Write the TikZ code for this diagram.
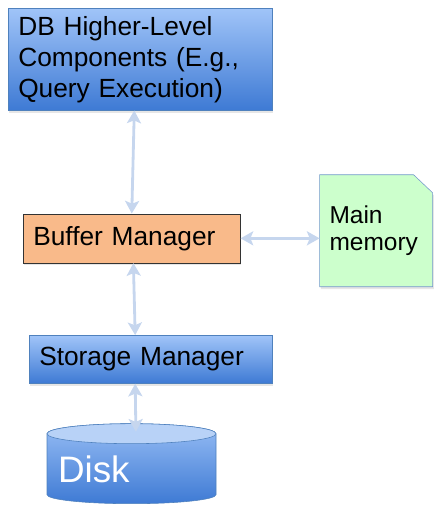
\documentclass[tikz,border=0pt]{standalone}
\usepackage{fontspec}
\setmainfont{Liberation Sans}
\usetikzlibrary{positioning, arrows.meta, shadows, backgrounds}
\definecolor{boxtop}{RGB}{160,196,248}
\definecolor{boxbot}{RGB}{62,122,212}
\definecolor{boxedge}{RGB}{79,129,189}
\definecolor{buffill}{RGB}{249,186,138}
\definecolor{memfill}{RGB}{204,255,204}
\definecolor{memedge}{RGB}{116,152,204}
\definecolor{linkblue}{RGB}{198,214,238}
\definecolor{disklid}{RGB}{184,210,247}

\begin{document}
\begin{tikzpicture}[
    layerbox/.style={
        draw=boxedge,
        top color=boxtop,
        bottom color=boxbot,
        align=left,
        inner xsep=0.25cm,
        font=\fontsize{18.7}{22}\selectfont,
        drop shadow={opacity=0.2, shadow xshift=0.03cm, shadow yshift=-0.06cm}
    },
    bufbox/.style={
        draw=black!80,
        fill=buffill,
        align=left,
        inner xsep=0.25cm,
        font=\fontsize{18.7}{22}\selectfont,
        drop shadow={opacity=0.2, shadow xshift=0.03cm, shadow yshift=-0.06cm}
    },
    membox/.style={
        align=left,
        inner xsep=0.25cm,
        outer sep=0pt,
        font=\fontsize{17.4}{19.5}\selectfont
    },
    diskbox/.style={
        align=left,
        inner xsep=0.275cm,
        outer sep=0pt,
        text=white,
        font=\fontsize{26.2}{30}\selectfont
    },
    dual/.style={
        {Stealth[length=9pt, width=10pt, inset=2pt]}-{Stealth[length=9pt, width=10pt, inset=2pt]},
        line width=2pt,
        linkblue
    }
]
\useasboundingbox (-0.2,0.2) rectangle (10.775,-12.6);

% === DB higher-level components ===
\node[layerbox, anchor=north west, text width=6.1cm, minimum height=2.55cm] (hl) at (0,0) {DB Higher-Level\\Components (E.g.,\\Query Execution)};

% === Buffer manager ===
\node[bufbox, below=2.575cm of hl.south west, anchor=north west, xshift=0.375cm, text width=4.925cm, minimum height=1.225cm] (buf) {Buffer Manager};

% === Main memory (page with folded corner) ===
\node[membox, right=1.975cm of buf, yshift=0.19cm, text width=2.325cm, text height=0.45cm, minimum height=2.8cm] (mem) {Main\\memory};
\begin{scope}[on background layer]
\filldraw[memedge, fill=memfill, drop shadow={opacity=0.2, shadow xshift=0.03cm, shadow yshift=-0.06cm}] (mem.south west) -- (mem.north west) -- ([xshift=-0.475cm]mem.north east) -- ([yshift=-0.45cm]mem.north east) -- (mem.south east) -- cycle;
\end{scope}

% === Storage manager ===
\node[layerbox, below=1.8cm of buf.south west, anchor=north west, xshift=0.15cm, text width=5.575cm, minimum height=1.2cm] (sto) {Storage Manager};

% === Disk ===
\node[diskbox, below=1.25cm of sto.south west, anchor=north west, xshift=0.45cm, text width=3.675cm, text height=0.925cm, minimum height=1.525cm] (disk) {Disk};
\begin{scope}[on background layer]
\shade[top color=boxtop!90!boxbot, bottom color=boxbot, draw=boxedge] (disk.north west) -- (disk.south west) arc[start angle=180, end angle=360, x radius=2.1125cm, y radius=0.225cm] -- (disk.north east) arc[start angle=0, end angle=180, x radius=2.1125cm, y radius=0.25cm] -- cycle;
\draw[boxedge, fill=disklid] (disk.north) ellipse[x radius=2.1125cm, y radius=0.25cm];
\end{scope}

% === Arrows ===
\draw[dual] ([xshift=-0.15cm]hl.south) -- (buf.north);
\draw[dual] ([xshift=0.04cm]buf.south) -- ([xshift=-0.39cm]sto.north);
\draw[dual] ([xshift=-0.39cm]sto.south) -- ([xshift=0.11cm, yshift=0.05cm]disk.north);
\draw[dual] (buf.east) -- (buf.east -| mem.west);

\end{tikzpicture}
\end{document}
